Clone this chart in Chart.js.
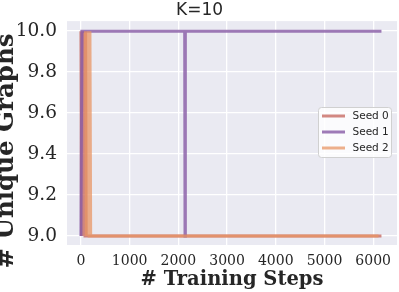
<!DOCTYPE html>
<html>
<head>
<meta charset="utf-8">
<script src="https://cdn.jsdelivr.net/npm/chart.js@4"></script>
<style>
  html, body { margin: 0; padding: 0; background: #fff; }
  #wrap { width: 399px; height: 292px; overflow: hidden; }
</style>
</head>
<body>
<div id="wrap"><canvas id="chart" width="399" height="292"></canvas></div>
<script>
// data
const seedLabels = ['Seed 0', 'Seed 1', 'Seed 2'];
const seedColors = ['rgba(196, 98, 88, 0.75)', 'rgba(135, 90, 165, 0.8)', 'rgba(232, 150, 100, 0.75)'];

const steps0 = [0, 12, 24, 36, 48, 60, 72, 84, 96, 108, 120, 6170];
const graphs0 = [10, 9, 10, 9, 10, 9, 10, 9, 10, 9, 9, 9];

const steps1 = [0, 20, 2130, 2137, 2144, 6170];
const graphs1 = [9, 10, 10, 9, 10, 10];

const steps2 = [95, 110, 125, 140, 155, 170, 185, 200, 6110];
const graphs2 = [10, 9, 10, 9, 10, 9, 10, 9, 9];

const xTicks = [0, 1000, 2000, 3000, 4000, 5000, 6000];
const yTicks = [9.0, 9.2, 9.4, 9.6, 9.8, 10.0];

const serif = '"DejaVu Serif", serif';
const sans = '"DejaVu Sans", sans-serif';
const ink = '#262626';

function toPoints(xs, ys) {
    return xs.map((x, i) => ({ x: x, y: ys[i] }));
}

// grey seaborn-style panel behind the plot
const panelBg = {
    id: 'panelBg',
    beforeDraw(chart) {
        const a = chart.chartArea, ctx = chart.ctx;
        ctx.save();
        ctx.fillStyle = '#eaeaf2';
        ctx.fillRect(a.left, a.top, a.right - a.left, a.bottom - a.top);
        ctx.restore();
    }
};

// y title (partly cut off at the left edge) and legend inside the plot
const extras = {
    id: 'extras',
    afterDraw(chart) {
        const ctx = chart.ctx;
        ctx.save();
        ctx.translate(13, 151);
        ctx.rotate(-Math.PI / 2);
        ctx.font = 'bold 24.5px ' + serif;
        ctx.fillStyle = ink;
        ctx.textAlign = 'center';
        ctx.textBaseline = 'alphabetic';
        ctx.fillText('# Unique Graphs', 0, 0);
        ctx.restore();

        // legend box
        ctx.save();
        const bx = 318.5, by = 107.5, bw = 73, bh = 50;
        ctx.beginPath();
        ctx.roundRect(bx, by, bw, bh, 3);
        ctx.fillStyle = 'rgba(255,255,255,0.8)';
        ctx.fill();
        ctx.strokeStyle = '#d0d0d0';
        ctx.lineWidth = 1;
        ctx.stroke();
        ctx.font = '10.5px ' + sans;
        ctx.textBaseline = 'middle';
        chart.data.datasets.forEach((ds, i) => {
            const y = 116 + i * 16;
            ctx.beginPath();
            ctx.moveTo(322, y);
            ctx.lineTo(345, y);
            ctx.strokeStyle = ds.borderColor;
            ctx.lineWidth = 3;
            ctx.stroke();
            ctx.fillStyle = ink;
            ctx.fillText(ds.label, 352.5, y + 0.5);
        });
        ctx.restore();
    }
};

const seeds = [toPoints(steps0, graphs0), toPoints(steps1, graphs1), toPoints(steps2, graphs2)];

new Chart(document.getElementById('chart'), {
    type: 'line',
    data: {
        datasets: seeds.map((pts, i) => ({
            label: seedLabels[i],
            data: pts,
            borderColor: seedColors[i],
            backgroundColor: seedColors[i],
            borderWidth: 3,
            pointRadius: 0,
            tension: 0,
            fill: false,
            order: 3 - i
        }))
    },
    options: {
        responsive: false,
        animation: false,
        layout: { padding: 0 },
        plugins: {
            legend: { display: false },
            tooltip: { enabled: false },
            title: {
                display: true,
                text: 'K=10',
                color: ink,
                font: { family: sans, size: 17, weight: 'normal' },
                padding: { top: 0, bottom: 0 }
            }
        },
        scales: {
            x: {
                type: 'linear',
                min: -286,
                max: 6490,
                afterBuildTicks: s => { s.ticks = xTicks.map(v => ({ value: v })); },
                afterFit: s => { s.height = 47; },
                grid: { color: '#ffffff', lineWidth: 1.3, drawTicks: false },
                border: { display: false },
                ticks: {
                    color: ink,
                    padding: 8,
                    maxRotation: 0,
                    font: { family: serif, size: 14 },
                    callback: v => String(v)
                },
                title: {
                    display: true,
                    text: '# Training Steps',
                    color: ink,
                    font: { family: serif, size: 19.5, weight: 'bold' },
                    padding: 0
                }
            },
            y: {
                min: 8.956,
                max: 10.049,
                afterBuildTicks: s => { s.ticks = yTicks.map(v => ({ value: v })); },
                afterFit: s => { s.width = 67; },
                grid: { color: '#ffffff', lineWidth: 1.3, drawTicks: false },
                border: { display: false },
                ticks: {
                    color: ink,
                    padding: 10,
                    font: { family: serif, size: 18.5 },
                    callback: v => Number(v).toFixed(1)
                }
            }
        }
    },
    plugins: [panelBg, extras]
});
</script>
</body>
</html>
